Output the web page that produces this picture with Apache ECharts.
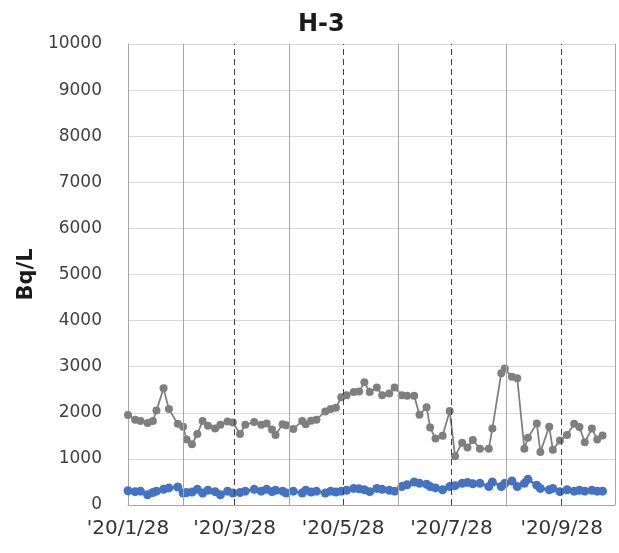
<!DOCTYPE html>
<html>
<head>
<meta charset="utf-8">
<title>H-3</title>
<script src="https://cdn.jsdelivr.net/npm/echarts@6/dist/echarts.min.js"></script>
<style>
  html, body { margin: 0; padding: 0; background: #ffffff; }
  #chart { width: 619px; height: 553px; }
</style>
</head>
<body>
<div id="chart"></div>
<script>
// Sampling dates (2020)
const dates = [
  '2020-01-28','2020-02-01','2020-02-04','2020-02-08','2020-02-11','2020-02-13','2020-02-17','2020-02-20',
  '2020-02-25','2020-02-28','2020-03-01','2020-03-04','2020-03-07','2020-03-10','2020-03-13','2020-03-17',
  '2020-03-20','2020-03-24','2020-03-27','2020-03-31','2020-04-03','2020-04-08','2020-04-12','2020-04-15',
  '2020-04-18','2020-04-20','2020-04-24','2020-04-26','2020-04-30','2020-05-05','2020-05-07','2020-05-10',
  '2020-05-13','2020-05-18','2020-05-21','2020-05-24','2020-05-27','2020-05-30','2020-06-03','2020-06-06',
  '2020-06-09','2020-06-12','2020-06-16','2020-06-19','2020-06-23','2020-06-26','2020-06-30','2020-07-03',
  '2020-07-07','2020-07-10','2020-07-14','2020-07-16','2020-07-19','2020-07-23','2020-07-27','2020-07-30',
  '2020-08-03','2020-08-06','2020-08-09','2020-08-13','2020-08-18','2020-08-20','2020-08-25','2020-08-27',
  '2020-08-31','2020-09-03','2020-09-07','2020-09-09','2020-09-14','2020-09-16','2020-09-21','2020-09-23',
  '2020-09-27','2020-10-01','2020-10-05','2020-10-08','2020-10-11','2020-10-15','2020-10-18','2020-10-21'
];

// H-3 concentration, gray series (Bq/L)
const grayValues = [
  1950, 1850, 1820, 1780, 1820, 2050, 2530, 2080,
  1760, 1700, 1420, 1320, 1540, 1820, 1720, 1660,
  1740, 1810, 1790, 1540, 1740, 1800, 1740, 1770,
  1640, 1520, 1750, 1730, 1650, 1820, 1750, 1830,
  1850, 2030, 2080, 2110, 2340, 2380, 2450, 2460,
  2660, 2450, 2550, 2380, 2420, 2550, 2380, 2370,
  2370, 1960, 2120, 1680, 1440, 1500, 2040, 1060,
  1350, 1250, 1410, 1220, 1220, 1660, 2860, 2960,
  2780, 2750, 1220, 1460, 1770, 1150, 1700, 1200,
  1400, 1520, 1760, 1690, 1360, 1660, 1420, 1510
];

// H-3 concentration, blue series (Bq/L)
const blueValues = [
  310, 290, 300, 220, 270, 300, 340, 370,
  390, 260, 270, 280, 340, 260, 320, 290,
  220, 300, 260, 270, 300, 340, 300, 340,
  290, 320, 300, 260, 300, 260, 320, 280,
  300, 260, 300, 280, 300, 320, 360, 350,
  330, 290, 360, 340, 320, 300, 400, 440,
  500, 470, 450, 400, 370, 330, 400, 420,
  470, 490, 460, 470, 400, 500, 400, 470,
  520, 400, 470, 560, 430, 360, 330, 360,
  290, 330, 300, 320, 300, 320, 300, 300
];

// Axis range and labelled dates
const xMin = '2020-01-28';
const xMax = '2020-10-28';
const labelDates = ['2020-01-28', '2020-03-28', '2020-05-28', '2020-07-28', '2020-09-28'];
// Monthly vertical grid lines: solid ones between labelled months, dashed on labelled months
const solidGridDates = ['2020-02-28', '2020-04-28', '2020-06-28', '2020-08-28', '2020-10-28'];
const dashedGridDates = ['2020-03-28', '2020-05-28', '2020-07-28', '2020-09-28'];

function toTime(s) {
  const p = s.split('-').map(Number);
  return new Date(p[0], p[1] - 1, p[2]).getTime();
}
function pairs(values) {
  return dates.map((d, i) => [toTime(d), values[i]]);
}

const chart = echarts.init(document.getElementById('chart'), null, { renderer: 'canvas' });

const gridLines = solidGridDates.map(d => ({
  xAxis: toTime(d),
  lineStyle: { type: 'solid', color: '#a6a6a6', width: 1 }
})).concat(dashedGridDates.map(d => ({
  xAxis: toTime(d),
  lineStyle: { type: [6, 4], color: '#404040', width: 1 }
})));

const option = {
  animation: false,
  backgroundColor: '#ffffff',
  title: {
    text: 'H-3',
    left: 293,
    top: 8,
    textStyle: {
      fontFamily: 'DejaVu Sans',
      fontSize: 24,
      fontWeight: 'bold',
      color: '#1a1a1a'
    }
  },
  grid: {
    left: 128,
    right: 4,
    top: 44,
    bottom: 48,
    containLabel: false
  },
  xAxis: {
    type: 'value',
    min: toTime(xMin),
    max: toTime(xMax),
    axisLine: { show: true, lineStyle: { color: '#a6a6a6', width: 1 } },
    axisTick: { show: false },
    splitLine: { show: false },
    axisLabel: {
      customValues: labelDates.map(toTime),
      formatter: function (val) {
        const d = new Date(val);
        return "'" + String(d.getFullYear()).slice(2) + '/' + (d.getMonth() + 1) + '/' + d.getDate();
      },
      fontFamily: 'DejaVu Sans',
      fontSize: 20,
      color: '#333333',
      margin: 14,
      hideOverlap: false
    }
  },
  yAxis: {
    type: 'value',
    min: 0,
    max: 10000,
    interval: 1000,
    name: 'Bq/L',
    nameLocation: 'middle',
    nameRotate: 90,
    nameGap: 78,
    nameTextStyle: {
      fontFamily: 'DejaVu Sans',
      fontSize: 21,
      fontWeight: 'bold',
      color: '#1a1a1a'
    },
    axisLine: { show: true, lineStyle: { color: '#a6a6a6', width: 1 } },
    axisTick: { show: false },
    splitLine: { show: true, lineStyle: { color: '#d9d9d9', width: 1 } },
    axisLabel: {
      formatter: function (val) { return String(val); },
      fontFamily: 'DejaVu Sans',
      fontSize: 17,
      color: '#404040',
      margin: 26,
      padding: [0, 0, 6, 0]
    }
  },
  series: [
    {
      name: 'grid',
      type: 'line',
      data: [],
      silent: true,
      markLine: {
        silent: true,
        symbol: ['none', 'none'],
        label: { show: false },
        emphasis: { disabled: true },
        data: gridLines
      }
    },
    {
      name: 'gray',
      type: 'line',
      data: pairs(grayValues),
      symbol: 'circle',
      symbolSize: 8,
      itemStyle: { color: '#7f7f7f' },
      lineStyle: { color: '#808080', width: 1.8 },
      z: 3
    },
    {
      name: 'blue',
      type: 'line',
      data: pairs(blueValues),
      symbol: 'circle',
      symbolSize: 9,
      itemStyle: { color: '#4472c4' },
      lineStyle: { color: '#4472c4', width: 2.5 },
      z: 4
    }
  ]
};

chart.setOption(option);
</script>
</body>
</html>
